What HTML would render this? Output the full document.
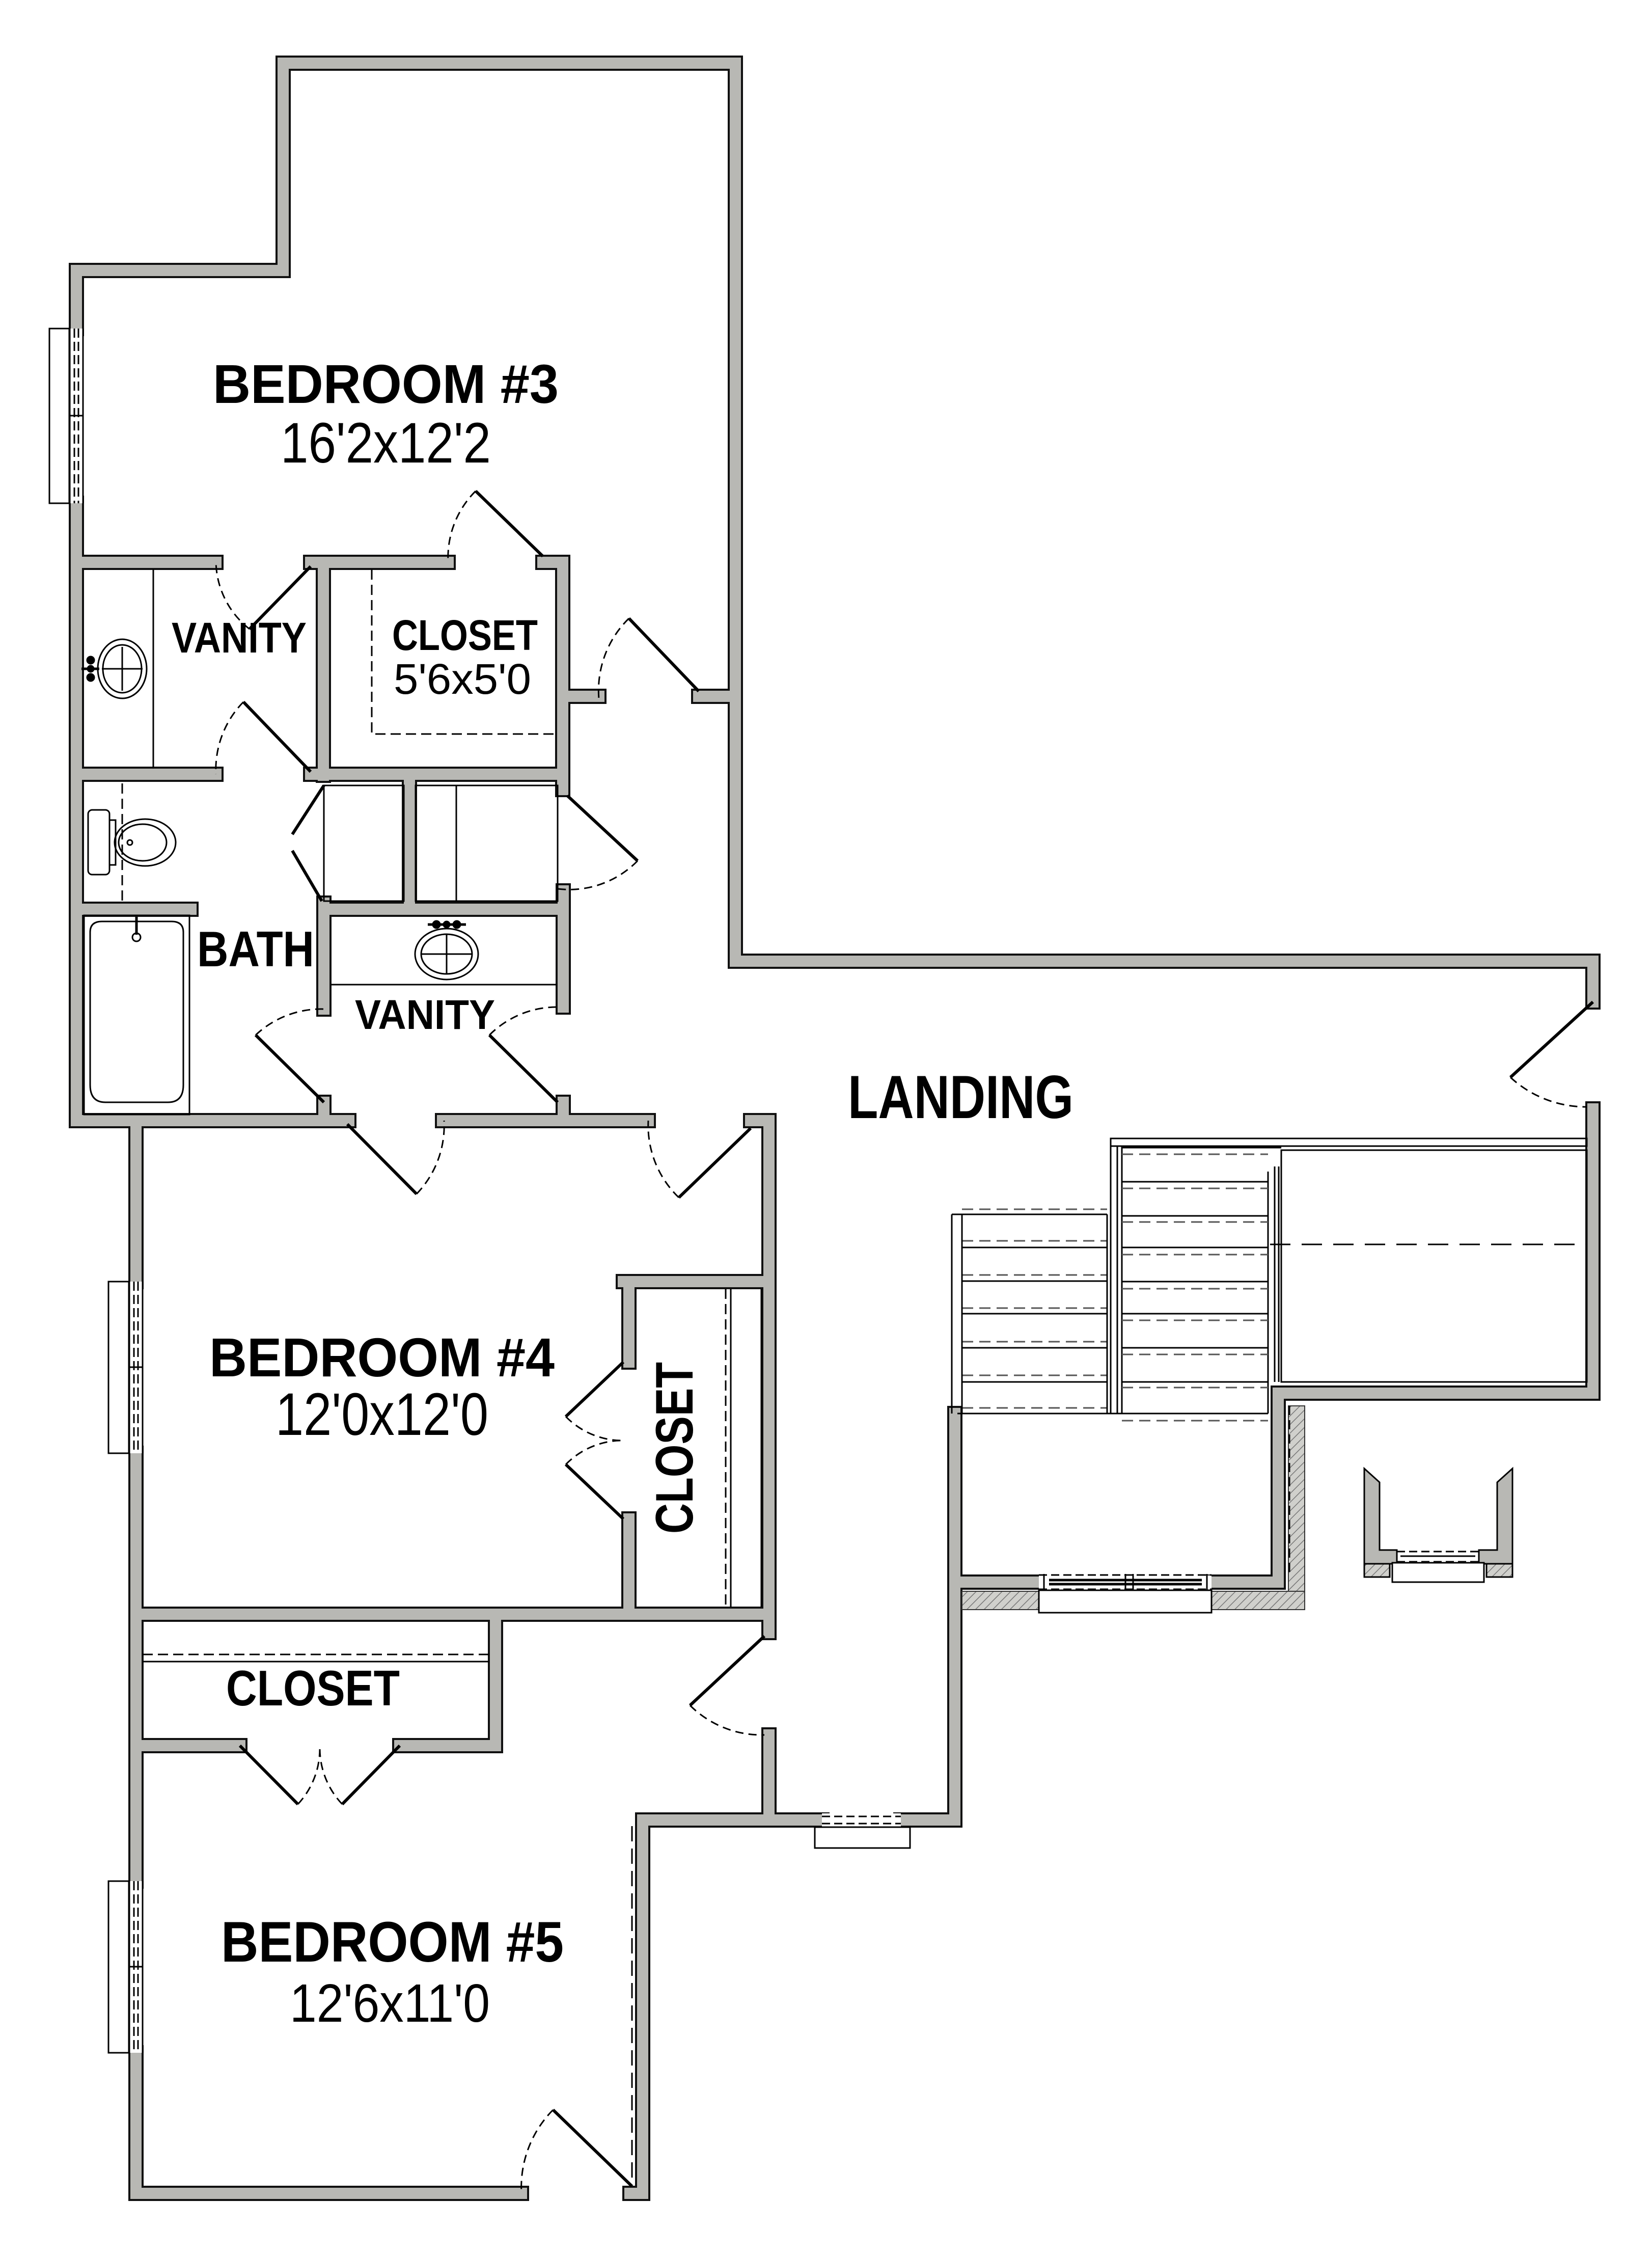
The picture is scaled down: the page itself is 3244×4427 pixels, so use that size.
<!DOCTYPE html>
<html><head><meta charset="utf-8"><style>
html,body{margin:0;padding:0;background:#fff}
svg{display:block}
text{font-family:"Liberation Sans",sans-serif;fill:#000}
</style></head><body>
<svg width="3244" height="4427" viewBox="0 0 3244 4427" xmlns="http://www.w3.org/2000/svg">
<defs>
<pattern id="hat" width="12" height="12" patternUnits="userSpaceOnUse" patternTransform="rotate(45)">
<rect width="12" height="12" fill="#d0d0cc"/><line x1="0" y1="0" x2="0" y2="12" stroke="#777" stroke-width="3"/>
</pattern>
<g id="walls" fill="none">
<path d="M150,645 V531 H556 V124 H1444 V1887 H3128 V1967"/>
<path d="M150,988 V2200 H685"/>
<path d="M150,1104 H424 M610,1104 H880 M1066,1104 H1105 V1550"/>
<path d="M1105,1367 H1176 M1372,1367 H1444"/>
<path d="M635,1104 V1522 M150,1520 H424 M610,1520 H1105"/>
<path d="M804,1522 V1785 M636,1785 H1106 M1106,1749 V1977 M636,1773 V1981 M150,1785 H375"/>
<path d="M636,2164 V2200 M1106,2164 V2200"/>
<path d="M869,2200 H1273 M1474,2200 H1510 V3205 M1510,3406 V3573"/>
<path d="M1262,4306 V3573 H1614 M1769,3573 H1875 V2775"/>
<path d="M2040,3106 H1875 M2379,3106 H2510 V2735 H3128 V2177"/>
<path d="M267,2200 V2516 M267,2853 V3693 M267,4030 V4306 H1024 M1237,4306 H1262"/>
<path d="M1224,2516 H1510 M1235,2516 V2674 M1235,2982 V3169 M267,3169 H1510"/>
<path d="M973,3169 V3427 H785 M471,3427 H267"/>
</g>
</defs>
<rect width="3244" height="4427" fill="#fff"/>
<use href="#walls" stroke="#111" stroke-width="30" stroke-linecap="square"/>
<use href="#walls" stroke="#b8b8b4" stroke-width="22" stroke-linecap="square"/>

<!-- hatched exterior at stair -->
<rect x="1889" y="3124" width="151" height="36" fill="url(#hat)" stroke="#333" stroke-width="2"/>
<rect x="2379" y="3124" width="183" height="36" fill="url(#hat)" stroke="#333" stroke-width="2"/>
<rect x="2530" y="2760" width="32" height="364" fill="url(#hat)" stroke="#333" stroke-width="2"/>
<line x1="2532" y1="2760" x2="2532" y2="3090" stroke="#000" stroke-width="3" stroke-dasharray="18 10"/>

<g fill="none" stroke="#000" stroke-width="3">
<!-- windows left -->
<rect x="97" y="645" width="39" height="343" fill="#fff"/>
<rect x="137" y="645" width="26" height="343" fill="#fff" stroke="none"/>
<line x1="137" y1="645" x2="137" y2="988"/><line x1="163" y1="645" x2="163" y2="988"/>
<line x1="146" y1="645" x2="146" y2="988" stroke-dasharray="18 8"/><line x1="154" y1="645" x2="154" y2="988" stroke-dasharray="18 8"/>
<line x1="137" y1="816" x2="163" y2="816"/>
<rect x="213" y="2516" width="40" height="337" fill="#fff"/>
<rect x="254" y="2516" width="26" height="337" fill="#fff" stroke="none"/>
<line x1="254" y1="2516" x2="254" y2="2853"/><line x1="280" y1="2516" x2="280" y2="2853"/>
<line x1="263" y1="2516" x2="263" y2="2853" stroke-dasharray="18 8"/><line x1="271" y1="2516" x2="271" y2="2853" stroke-dasharray="18 8"/>
<line x1="254" y1="2684" x2="280" y2="2684"/>
<rect x="213" y="3693" width="40" height="337" fill="#fff"/>
<rect x="254" y="3693" width="26" height="337" fill="#fff" stroke="none"/>
<line x1="254" y1="3693" x2="254" y2="4030"/><line x1="280" y1="3693" x2="280" y2="4030"/>
<line x1="263" y1="3693" x2="263" y2="4030" stroke-dasharray="18 8"/><line x1="271" y1="3693" x2="271" y2="4030" stroke-dasharray="18 8"/>
<line x1="254" y1="3861" x2="280" y2="3861"/>
<!-- bottom windows -->
<rect x="1614" y="3560" width="155" height="26" fill="#fff" stroke="none"/>
<rect x="1600" y="3587" width="187" height="41" fill="#fff"/>
<line x1="1614" y1="3566" x2="1769" y2="3566" stroke-dasharray="16 8"/><line x1="1614" y1="3580" x2="1769" y2="3580" stroke-dasharray="16 8"/>
<rect x="2040" y="3093" width="339" height="28" fill="#fff" stroke="none"/>
<line x1="2040" y1="3092" x2="2379" y2="3092" stroke-dasharray="16 8"/>
<line x1="2060" y1="3102" x2="2360" y2="3102" stroke-width="5"/>
<line x1="2060" y1="3110" x2="2360" y2="3110" stroke-width="5"/>
<line x1="2210" y1="3090" x2="2210" y2="3122"/><line x1="2225" y1="3090" x2="2225" y2="3122"/>
<line x1="2050" y1="3090" x2="2050" y2="3122"/><line x1="2370" y1="3090" x2="2370" y2="3122"/>
<rect x="2040" y="3122" width="339" height="44" fill="#fff"/>
<line x1="2040" y1="3120" x2="2379" y2="3120" stroke-dasharray="16 8"/>

<!-- chimney / small element -->
<path d="M2679,2883 L2709,2910 V3043 H2743 V3070 H2679 Z" fill="#b8b8b4"/>
<path d="M2970,2883 L2940,2910 V3043 H2904 V3070 H2970 Z" fill="#b8b8b4"/>
<rect x="2679" y="3070" width="50" height="26" fill="url(#hat)"/>
<rect x="2919" y="3070" width="51" height="26" fill="url(#hat)"/>
<rect x="2734" y="3068" width="180" height="38" fill="#fff"/>
<line x1="2743" y1="3046" x2="2904" y2="3046" stroke-dasharray="16 8"/>
<line x1="2743" y1="3066" x2="2904" y2="3066" stroke-dasharray="16 8"/>
<line x1="2750" y1="3055" x2="2897" y2="3055"/>

<!-- stairs -->
<rect x="2181" y="2235" width="935" height="15"/>
<rect x="2516" y="2258" width="600" height="455"/>
<line x1="2494" y1="2443" x2="3116" y2="2443" stroke-dasharray="40 22"/>
<line x1="2194" y1="2250" x2="2194" y2="2775"/><line x1="2203" y1="2250" x2="2203" y2="2775"/>
<line x1="2181" y1="2235" x2="2181" y2="2775"/>
<line x1="2490" y1="2300" x2="2490" y2="2775"/><line x1="2503" y1="2290" x2="2503" y2="2713"/><line x1="2511" y1="2290" x2="2511" y2="2713"/>
<line x1="2203" y1="2253" x2="2516" y2="2253"/>
<g>
<line x1="2203" y1="2320" x2="2490" y2="2320"/><line x1="2203" y1="2387" x2="2490" y2="2387"/><line x1="2203" y1="2449" x2="2490" y2="2449"/><line x1="2203" y1="2516" x2="2490" y2="2516"/><line x1="2203" y1="2579" x2="2490" y2="2579"/><line x1="2203" y1="2646" x2="2490" y2="2646"/><line x1="2203" y1="2713" x2="2490" y2="2713"/>
<line x1="1880" y1="2775" x2="2490" y2="2775"/>
</g>
<g stroke="#555" stroke-dasharray="22 12">
<line x1="2203" y1="2266" x2="2490" y2="2266"/><line x1="2203" y1="2333" x2="2490" y2="2333"/><line x1="2203" y1="2399" x2="2490" y2="2399"/><line x1="2203" y1="2463" x2="2490" y2="2463"/><line x1="2203" y1="2530" x2="2490" y2="2530"/><line x1="2203" y1="2592" x2="2490" y2="2592"/><line x1="2203" y1="2659" x2="2490" y2="2659"/><line x1="2203" y1="2724" x2="2490" y2="2724"/><line x1="2203" y1="2789" x2="2490" y2="2789"/>
<line x1="1889" y1="2374" x2="2174" y2="2374"/><line x1="1889" y1="2436" x2="2174" y2="2436"/><line x1="1889" y1="2503" x2="2174" y2="2503"/><line x1="1889" y1="2568" x2="2174" y2="2568"/><line x1="1889" y1="2634" x2="2174" y2="2634"/><line x1="1889" y1="2700" x2="2174" y2="2700"/><line x1="1889" y1="2764" x2="2174" y2="2764"/>
</g>
<line x1="1869" y1="2384" x2="1869" y2="2775"/><line x1="1889" y1="2384" x2="1889" y2="2775"/><line x1="2174" y1="2384" x2="2174" y2="2775"/>
<line x1="1869" y1="2384" x2="2174" y2="2384"/>
<line x1="1889" y1="2449" x2="2174" y2="2449"/><line x1="1889" y1="2515" x2="2174" y2="2515"/><line x1="1889" y1="2579" x2="2174" y2="2579"/><line x1="1889" y1="2646" x2="2174" y2="2646"/><line x1="1889" y1="2713" x2="2174" y2="2713"/>

<!-- closets & counters -->
<path d="M730,1118 V1441 H1092" stroke-dasharray="20 10"/>
<line x1="301" y1="1118" x2="301" y2="1508"/>
<line x1="650" y1="1933" x2="1094" y2="1933"/>
<rect x="636" y="1542" width="157" height="227"/>
<rect x="816" y="1542" width="279" height="227"/>
<line x1="896" y1="1542" x2="896" y2="1769"/>
<line x1="1495" y1="2530" x2="1495" y2="3155"/>
<line x1="1435" y1="2530" x2="1435" y2="3155"/>
<line x1="1425" y1="2530" x2="1425" y2="3155" stroke-dasharray="20 10"/>
<line x1="280" y1="3248" x2="960" y2="3248" stroke-dasharray="20 10"/>
<line x1="280" y1="3262" x2="960" y2="3262"/>
<line x1="1241" y1="3585" x2="1241" y2="4292" stroke-dasharray="30 14"/>
<line x1="240" y1="1538" x2="240" y2="1769" stroke-dasharray="20 10"/>

<!-- door leaves -->
<g stroke-width="6">
<line x1="1066" y1="1092" x2="934" y2="964"/>
<line x1="1372" y1="1357" x2="1235" y2="1214"/>
<line x1="610" y1="1112" x2="490" y2="1235"/>
<line x1="610" y1="1515" x2="478" y2="1378"/>
<line x1="1114" y1="1562" x2="1252" y2="1690"/>
<line x1="636" y1="2164" x2="502" y2="2032"/>
<line x1="1095" y1="2164" x2="961" y2="2032"/>
<line x1="682" y1="2207" x2="818" y2="2344"/>
<line x1="1474" y1="2215" x2="1333" y2="2351"/>
<line x1="1501" y1="3212" x2="1355" y2="3348"/>
<line x1="1241" y1="4292" x2="1086" y2="4142"/>
<line x1="3128" y1="1967" x2="2966" y2="2115"/>
<line x1="1224" y1="2674" x2="1111" y2="2781"/>
<line x1="1224" y1="2982" x2="1111" y2="2875"/>
<line x1="471" y1="3427" x2="585" y2="3542"/>
<line x1="785" y1="3427" x2="672" y2="3542"/>
<line x1="636" y1="1542" x2="574" y2="1638"/>
<line x1="574" y1="1670" x2="632" y2="1769"/>
</g>
<!-- door swings -->
<g stroke-dasharray="16 10">
<path d="M934,964 A184,184 0 0 0 880,1104"/>
<path d="M1235,1214 A198,198 0 0 0 1176,1372"/>
<path d="M490,1235 A172,172 0 0 1 424,1104"/>
<path d="M478,1378 A190,190 0 0 0 424,1520"/>
<path d="M1252,1690 A188,188 0 0 1 1095,1745"/>
<path d="M502,2032 A188,188 0 0 1 636,1981"/>
<path d="M961,2032 A188,188 0 0 1 1095,1977"/>
<path d="M818,2344 A193,193 0 0 0 872,2200"/>
<path d="M1333,2351 A196,196 0 0 1 1273,2200"/>
<path d="M1355,3348 A200,200 0 0 0 1501,3406"/>
<path d="M1086,4142 A216,216 0 0 0 1024,4306"/>
<path d="M2966,2115 A219,219 0 0 0 3116,2173"/>
<path d="M1111,2781 A156,156 0 0 0 1219,2828"/>
<path d="M1111,2875 A156,156 0 0 1 1219,2828"/>
<path d="M585,3542 A160,160 0 0 0 628,3434"/>
<path d="M672,3542 A160,160 0 0 1 628,3434"/>
</g>

<!-- sinks -->
<ellipse cx="240" cy="1313" rx="48" ry="58"/>
<ellipse cx="240" cy="1313" rx="38" ry="47"/>
<line x1="200" y1="1313" x2="280" y2="1313"/><line x1="240" y1="1270" x2="240" y2="1356"/>
<line x1="160" y1="1313" x2="195" y2="1313" stroke-width="5"/>
<circle cx="178" cy="1296" r="7" fill="#000"/><circle cx="178" cy="1330" r="7" fill="#000"/><circle cx="178" cy="1313" r="6" fill="#000"/>
<ellipse cx="877" cy="1873" rx="62" ry="50"/>
<ellipse cx="877" cy="1873" rx="50" ry="39"/>
<line x1="827" y1="1873" x2="927" y2="1873"/><line x1="877" y1="1834" x2="877" y2="1912"/>
<line x1="840" y1="1815" x2="915" y2="1815" stroke-width="5"/>
<circle cx="857" cy="1815" r="7" fill="#000"/><circle cx="897" cy="1815" r="7" fill="#000"/><circle cx="877" cy="1815" r="6" fill="#000"/>
<!-- toilet -->
<rect x="173" y="1590" width="42" height="127" rx="8"/>
<rect x="215" y="1610" width="12" height="88"/>
<ellipse cx="285" cy="1654" rx="60" ry="46"/>
<ellipse cx="280" cy="1654" rx="47" ry="36"/>
<circle cx="255" cy="1654" r="5"/>
<!-- tub -->
<rect x="165" y="1797" width="207" height="391"/>
<path d="M177,1830 Q177,1809 200,1809 H337 Q360,1809 360,1830 V2130 Q360,2164 330,2164 H207 Q177,2164 177,2130 Z"/>
<line x1="268" y1="1800" x2="268" y2="1835" stroke-width="5"/>
<circle cx="268" cy="1840" r="8"/>
</g>

<!-- labels -->
<g font-weight="bold">
<text x="418" y="791" font-size="108" textLength="679" lengthAdjust="spacingAndGlyphs">BEDROOM #3</text>
<text x="337" y="1281" font-size="84" textLength="265" lengthAdjust="spacingAndGlyphs">VANITY</text>
<text x="770" y="1276" font-size="84" textLength="286" lengthAdjust="spacingAndGlyphs">CLOSET</text>
<text x="387" y="1897" font-size="98" textLength="230" lengthAdjust="spacingAndGlyphs">BATH</text>
<text x="697" y="2020" font-size="82" textLength="275" lengthAdjust="spacingAndGlyphs">VANITY</text>
<text x="1665" y="2195" font-size="120" textLength="443" lengthAdjust="spacingAndGlyphs">LANDING</text>
<text x="411" y="2702" font-size="108" textLength="678" lengthAdjust="spacingAndGlyphs">BEDROOM #4</text>
<text transform="translate(1360,3011) rotate(-90)" x="0" y="0" font-size="104" textLength="337" lengthAdjust="spacingAndGlyphs">CLOSET</text>
<text x="444" y="3348" font-size="98" textLength="341" lengthAdjust="spacingAndGlyphs">CLOSET</text>
<text x="434" y="3851" font-size="112" textLength="673" lengthAdjust="spacingAndGlyphs">BEDROOM #5</text>
</g>
<g>
<text x="551" y="908" font-size="112" textLength="413" lengthAdjust="spacingAndGlyphs">16'2x12'2</text>
<text x="773" y="1362" font-size="84" textLength="270" lengthAdjust="spacingAndGlyphs">5'6x5'0</text>
<text x="541" y="2817" font-size="118" textLength="418" lengthAdjust="spacingAndGlyphs">12'0x12'0</text>
<text x="569" y="3969" font-size="106" textLength="393" lengthAdjust="spacingAndGlyphs">12'6x11'0</text>
</g>
</svg>
</body></html>
